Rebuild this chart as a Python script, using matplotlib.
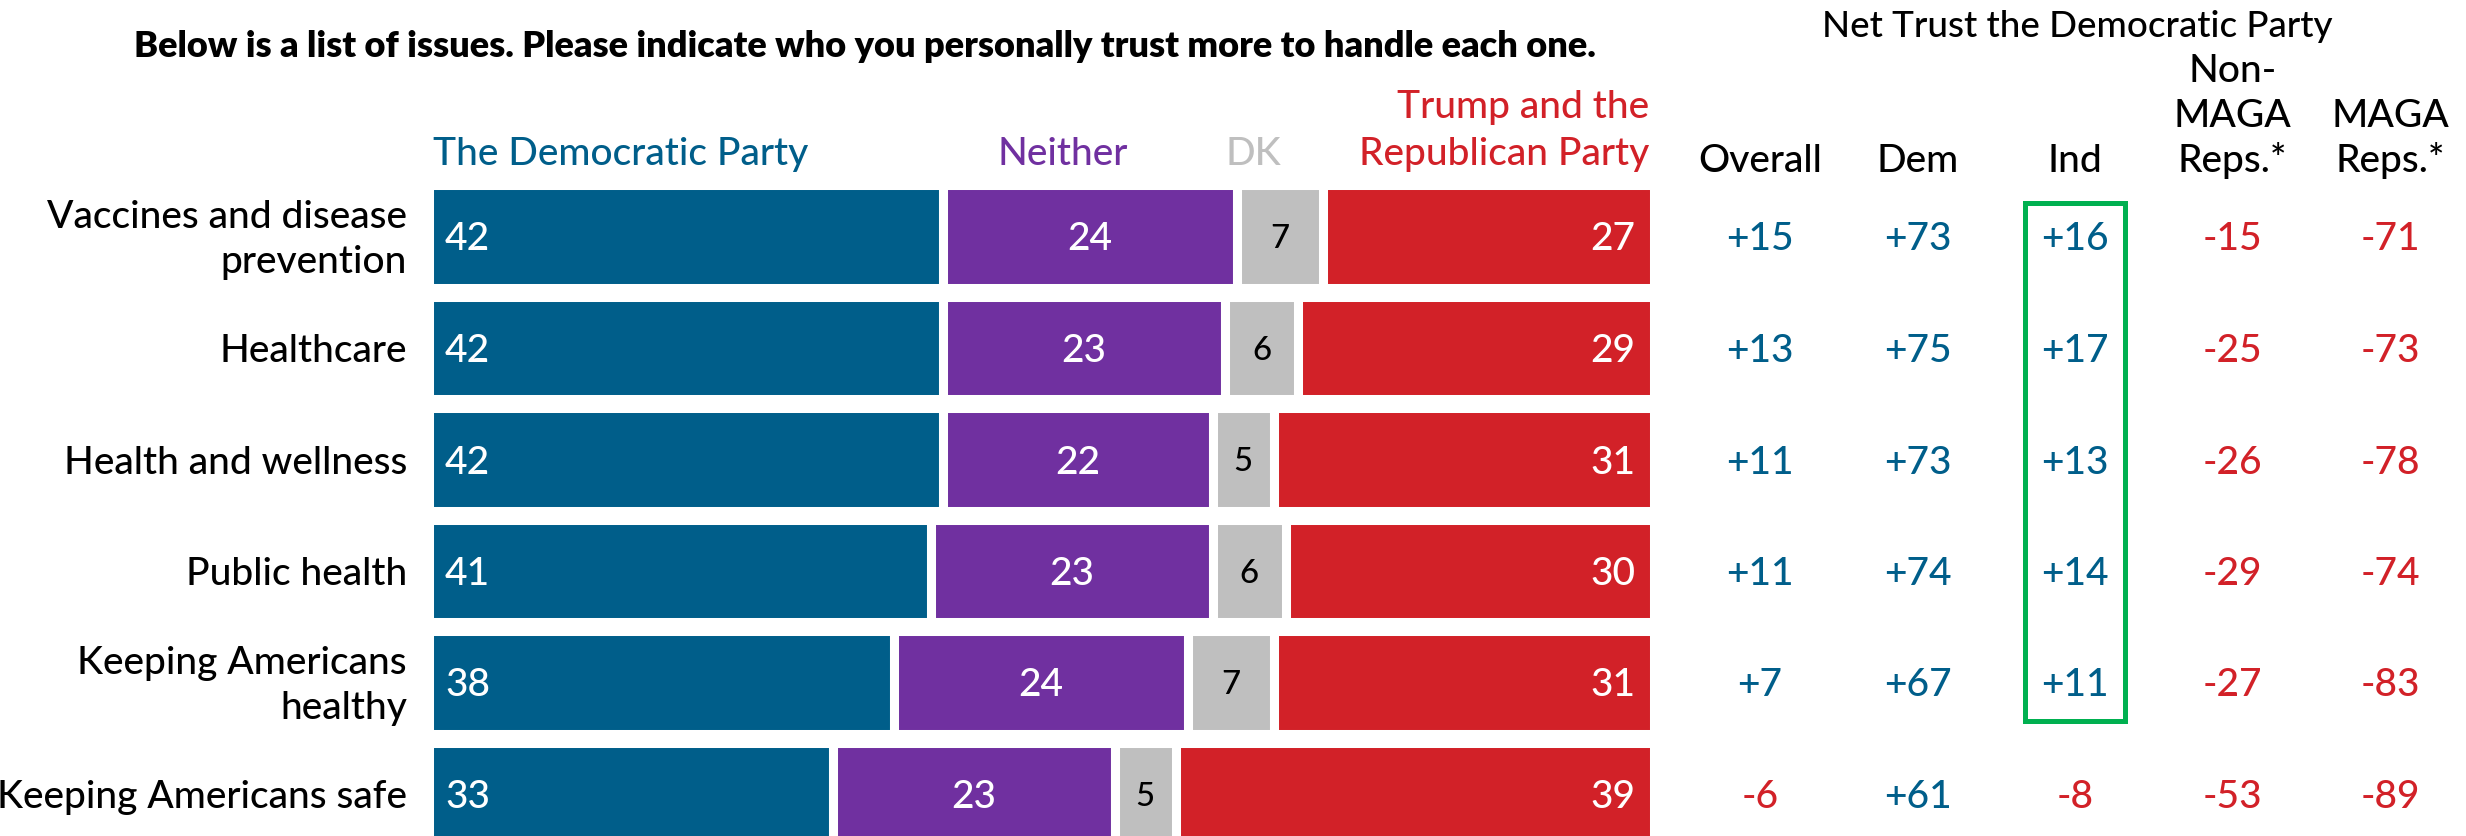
import matplotlib
matplotlib.use("Agg")
import matplotlib.pyplot as plt
from matplotlib.patches import Rectangle

plt.rcParams["font.family"] = ["Lato", "DejaVu Sans"]
plt.rcParams["font.weight"] = "medium"

# NOTE : chart data
issues = [
    "Vaccines and disease\nprevention",
    "Healthcare",
    "Health and wellness",
    "Public health",
    "Keeping Americans\nhealthy",
    "Keeping Americans safe",
]
dem = [42, 42, 42, 41, 38, 33]
neither = [24, 23, 22, 23, 24, 23]
dk = [7, 6, 5, 6, 7, 5]
rep = [27, 29, 31, 30, 31, 39]

net_cols = ["Overall", "Dem", "Ind", "Non-\nMAGA\nReps.*", "MAGA\nReps.*"]
net_overall = [15, 13, 11, 11, 7, -6]
net_dem = [73, 75, 73, 74, 67, 61]
net_ind = [16, 17, 13, 14, 11, -8]
net_nonmaga = [-15, -25, -26, -29, -27, -53]
net_maga = [-71, -73, -78, -74, -83, -89]

BLUE = "#005E8A"
PURPLE = "#7030A0"
GRAY = "#BFBFBF"
RED = "#D22128"
GREEN = "#00B050"

W, H = 2466, 836
fig = plt.figure(figsize=(W / 100, H / 100), dpi=100)

# NOTE : layout in pixels
row0 = 236.5
step = 111.5
top_lim = -0.5 - (row0 - 0.5 * step) / step
bot_lim = top_lim + H / step


def fx(px):
    return px / W


def fy(px):
    return 1 - px / H


def dy(px):
    return px / step


# NOTE : bar axes
ax = fig.add_axes([fx(428.5), 0, fx(1225), 1])
ax.set_xlim(0, 100)
ax.set_ylim(bot_lim, top_lim)
ax.axis("off")

ys = list(range(len(issues)))
lefts = [0] * len(issues)
for vals, col in [(dem, BLUE), (neither, PURPLE), (dk, GRAY), (rep, RED)]:
    ax.barh(ys, vals, left=lefts, height=0.915, color=col, edgecolor="white", linewidth=6.5)
    lefts = [l + v for l, v in zip(lefts, vals)]

FS = 28
for i in ys:
    base = i + dy(14)
    ax.text(1.35, base, str(dem[i]), color="white", fontsize=FS, ha="left", va="baseline")
    ax.text(dem[i] + neither[i] / 2, base, str(neither[i]), color="white", fontsize=FS,
            ha="center", va="baseline")
    ax.text(dem[i] + neither[i] + dk[i] / 2, i + dy(12), str(dk[i]), color="black", fontsize=FS * 0.85,
            ha="center", va="baseline")
    ax.text(98.5, base, str(rep[i]), color="white", fontsize=FS, ha="right", va="baseline")

    lines = issues[i].split("\n")
    n = len(lines)
    for k, line in enumerate(lines):
        ax.text(-1.75, i + dy(14 + (k - (n - 1) / 2) * 45), line, color="black", fontsize=FS,
                ha="right", va="baseline")

# NOTE : net trust table axes
ax2 = fig.add_axes([fx(1760 - 78.75), 0, fx(157.5 * 5), 1])
ax2.set_xlim(-0.5, 4.5)
ax2.set_ylim(bot_lim, top_lim)
ax2.axis("off")

for c, series in enumerate([net_overall, net_dem, net_ind, net_nonmaga, net_maga]):
    for i, v in enumerate(series):
        ax2.text(c, i + dy(14), f"{v:+d}", color=BLUE if v > 0 else RED, fontsize=FS,
                 ha="center", va="baseline")
    lines = net_cols[c].split("\n")
    for k, line in enumerate(reversed(lines)):
        fig.text(fx(1760 + 157.5 * c), fy(172 - 45 * k), line, fontsize=FS, ha="center", va="baseline")

ax2.add_patch(Rectangle((2 - 0.32, -0.30), 0.64, 4.645, fill=False, edgecolor=GREEN,
                        linewidth=3.6, clip_on=False))

# NOTE : headers
fig.text(fx(865), fy(57), "Below is a list of issues. Please indicate who you personally trust more to handle each one.",
         fontsize=26, fontweight="heavy", ha="center", va="baseline")
fig.text(fx(2077), fy(37), "Net Trust the Democratic Party", fontsize=26.5, ha="center", va="baseline")
fig.text(fx(433), fy(165), "The Democratic Party", color=BLUE, fontsize=FS, ha="left", va="baseline")
fig.text(fx(1063), fy(165), "Neither", color=PURPLE, fontsize=FS, ha="center", va="baseline")
fig.text(fx(1253), fy(165), "DK", color=GRAY, fontsize=FS, ha="center", va="baseline")
fig.text(fx(1649), fy(118), "Trump and the", color=RED, fontsize=FS, ha="right", va="baseline")
fig.text(fx(1649), fy(165), "Republican Party", color=RED, fontsize=FS, ha="right", va="baseline")

plt.savefig("out.png", dpi=100)
plt.close()
